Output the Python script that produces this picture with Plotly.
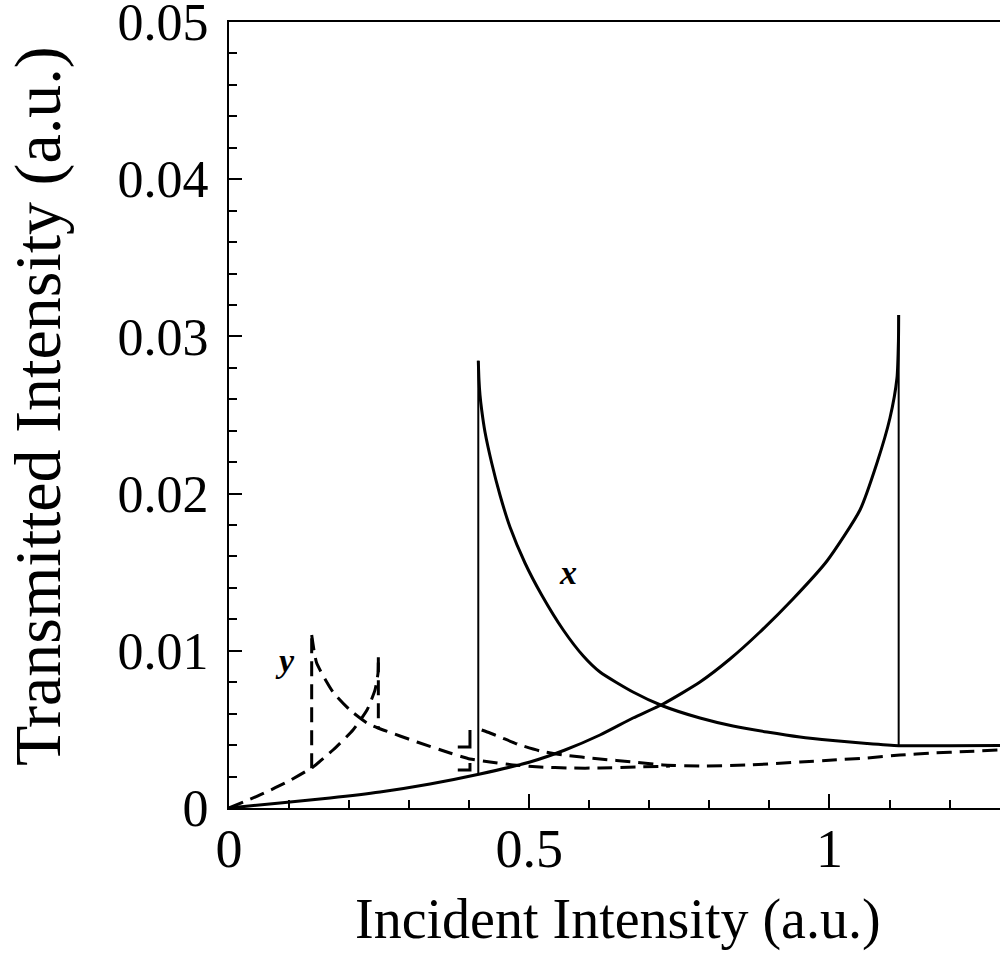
import plotly.graph_objects as go

# ---------------- data ----------------
# solid curve "x": lower branch (rising) up to the switch-down point
x_lower_x = [0.0, 0.08493, 0.16819, 0.25146, 0.33472, 0.41799, 0.50125, 0.55953, 0.61782, 0.67277,
             0.72273, 0.78435, 0.8343, 0.88426, 0.93921, 0.99584, 1.05079, 1.0791, 1.10075, 1.11241,
             1.1149, 1.11524]
x_lower_y = [0.0, 0.000318, 0.000636, 0.001018, 0.001527, 0.002163, 0.002926, 0.00369, 0.004644, 0.005725,
             0.006616, 0.008015, 0.009478, 0.011196, 0.013295, 0.015712, 0.018957, 0.021947, 0.024809, 0.027354,
             0.029771, 0.031361]
# solid curve "x": upper branch (falling) from the switch-up point to the right edge
x_upper_x = [0.41516, 0.41632, 0.41799, 0.42082, 0.42631, 0.43747, 0.45129, 0.46794, 0.49292, 0.52073,
             0.5567, 0.59001, 0.61782, 0.67277, 0.72273, 0.78435, 0.8393, 0.89592, 0.95087, 1.00583,
             1.06245, 1.11524, 1.2, 1.284]
x_upper_y = [0.028454, 0.027226, 0.026272, 0.025318, 0.023919, 0.021947, 0.019911, 0.017875, 0.015585, 0.01355,
             0.011323, 0.009669, 0.008651, 0.007379, 0.006489, 0.005725, 0.005216, 0.004835, 0.004517, 0.004294,
             0.004103, 0.003963, 0.00396, 0.00398]
# vertical switching jumps of "x": (x position, y from, y to)
x_jumps_x = [0.41516, 1.11524]
x_jumps_from = [0.00216, 0.031361]
x_jumps_to = [0.028454, 0.003963]

# dashed curve "y": lower branch
y_lower_x = [0.0, 0.0516, 0.0966, 0.1399, 0.1732, 0.2065, 0.2298, 0.2432, 0.2482, 0.2487]
y_lower_y = [0.0, 0.00083, 0.00165, 0.00261, 0.00369, 0.00496, 0.00623, 0.00751, 0.00859, 0.00959]
# dashed curve "y": upper branch
y_upper_x = [0.1377, 0.146, 0.1732, 0.2015, 0.2298, 0.2481, 0.2848, 0.3131, 0.368, 0.4013, 0.4346,
             0.4729, 0.5179, 0.5678, 0.6178, 0.6844, 0.7344]
y_upper_y = [0.011, 0.00922, 0.00738, 0.00623, 0.00541, 0.00509, 0.00458, 0.0042, 0.0035, 0.00312,
             0.00293, 0.00274, 0.00261, 0.00254, 0.00254, 0.00261, 0.00267]
# dashed curve "y": branch after the "x" switch
y_third_x = [0.4208, 0.4346, 0.4513, 0.4796, 0.5179, 0.5562, 0.6178, 0.6728, 0.7227, 0.7843, 0.8676,
             0.9508, 1.0058, 1.0625, 1.1174, 1.1724, 1.229, 1.284]
y_third_y = [0.00496, 0.00477, 0.00452, 0.00407, 0.00363, 0.00337, 0.00312, 0.00293, 0.00274, 0.00267,
             0.00274, 0.00293, 0.00305, 0.00318, 0.00337, 0.0035, 0.00359, 0.00369]
# vertical switching jumps of "y"
y_jumps_x = [0.1377, 0.2487]
y_jumps_from = [0.00253, 0.00959]
y_jumps_to = [0.011, 0.00507]
# small hook marks near x = 0.40
hook_x = [[0.381, 0.4013, 0.4013], [0.381, 0.4013, 0.4013]]
hook_y = [[0.00388, 0.00388, 0.00496], [0.00242, 0.00242, 0.00286]]

# labels
curve_labels = ["x", "y"]
label_x = [0.5645, 0.0933]
label_y = [0.0150, 0.0094]

x_tickvals = [0, 0.5, 1]
x_ticktext = ["0", "0.5", "1"]
y_tickvals = [0, 0.01, 0.02, 0.03, 0.04, 0.05]
y_ticktext = ["0", "0.01", "0.02", "0.03", "0.04", "0.05"]
x_title = "Incident Intensity (a.u.)"
y_title = "Transmitted Intensity (a.u.)"

SERIF = "Liberation Serif, Times New Roman, serif"
DASH = "15px,8px"

fig = go.Figure()

# solid x-curve
fig.add_trace(go.Scatter(x=x_lower_x, y=x_lower_y, mode="lines",
                         line=dict(color="black", width=3, shape="spline", smoothing=0.6)))
fig.add_trace(go.Scatter(x=x_upper_x, y=x_upper_y, mode="lines",
                         line=dict(color="black", width=3, shape="spline", smoothing=0.6)))
jx, jy = [], []
for xx, a, b in zip(x_jumps_x, x_jumps_from, x_jumps_to):
    jx += [xx, xx, None]
    jy += [a, b, None]
fig.add_trace(go.Scatter(x=jx, y=jy, mode="lines", line=dict(color="black", width=2)))

# dashed y-curve
fig.add_trace(go.Scatter(x=y_lower_x, y=y_lower_y, mode="lines",
                         line=dict(color="black", width=3, dash=DASH, shape="spline", smoothing=0.5)))
fig.add_trace(go.Scatter(x=y_upper_x, y=y_upper_y, mode="lines",
                         line=dict(color="black", width=3, dash=DASH, shape="spline", smoothing=0.5)))
fig.add_trace(go.Scatter(x=y_third_x, y=y_third_y, mode="lines",
                         line=dict(color="black", width=3, dash=DASH, shape="spline", smoothing=0.5)))
jx, jy = [], []
for xx, a, b in zip(y_jumps_x, y_jumps_from, y_jumps_to):
    jx += [xx, xx, None]
    jy += [a, b, None]
fig.add_trace(go.Scatter(x=jx, y=jy, mode="lines", line=dict(color="black", width=3, dash=DASH)))
hx, hy = [], []
for a, b in zip(hook_x, hook_y):
    hx += a + [None]
    hy += b + [None]
fig.add_trace(go.Scatter(x=hx, y=hy, mode="lines", line=dict(color="black", width=3)))

for t, xx, yy in zip(curve_labels, label_x, label_y):
    fig.add_annotation(x=xx, y=yy, text="<b><i>%s</i></b>" % t, showarrow=False,
                       font=dict(family=SERIF, size=34, color="black"))

# axis titles (placed as paper annotations for exact positioning)
fig.add_annotation(xref="paper", yref="paper", x=0.5045, y=-0.142, text=x_title, showarrow=False,
                   xanchor="center", yanchor="middle", font=dict(family=SERIF, size=56, color="black"))
fig.add_annotation(xref="paper", yref="paper", x=-0.2477, y=0.5115, text=y_title, showarrow=False,
                   textangle=-90, xanchor="center", yanchor="middle",
                   font=dict(family=SERIF, size=66, color="black"))

fig.update_layout(
    width=1000, height=959,
    margin=dict(l=229, r=0, t=22, b=151, autoexpand=False),
    plot_bgcolor="white", paper_bgcolor="white",
    showlegend=False,
    font=dict(family=SERIF, color="black"),
)
fig.update_xaxes(
    range=[0, 1.284], showline=True, linecolor="black", linewidth=2, mirror=True,
    showgrid=False, zeroline=False, automargin=False,
    ticks="inside", ticklen=14, tickwidth=1.5, tickcolor="black",
    tickvals=x_tickvals, ticktext=x_ticktext, ticklabelstandoff=-8,
    minor=dict(ticks="inside", ticklen=8, tickwidth=1.5, tickcolor="black", tick0=0, dtick=0.1),
    tickfont=dict(family=SERIF, size=54, color="black"),
)
fig.update_yaxes(
    range=[0, 0.0500001], showline=True, linecolor="black", linewidth=2,
    showgrid=False, zeroline=False, automargin=False,
    ticks="inside", ticklen=13, tickwidth=1.5, tickcolor="black",
    tickvals=y_tickvals, ticktext=y_ticktext, ticklabelstandoff=8,
    ticklabeloverflow="allow",
    minor=dict(ticks="inside", ticklen=8, tickwidth=1.5, tickcolor="black", tick0=0, dtick=0.002),
    tickfont=dict(family=SERIF, size=52, color="black"),
)

fig.write_html("out.html")
